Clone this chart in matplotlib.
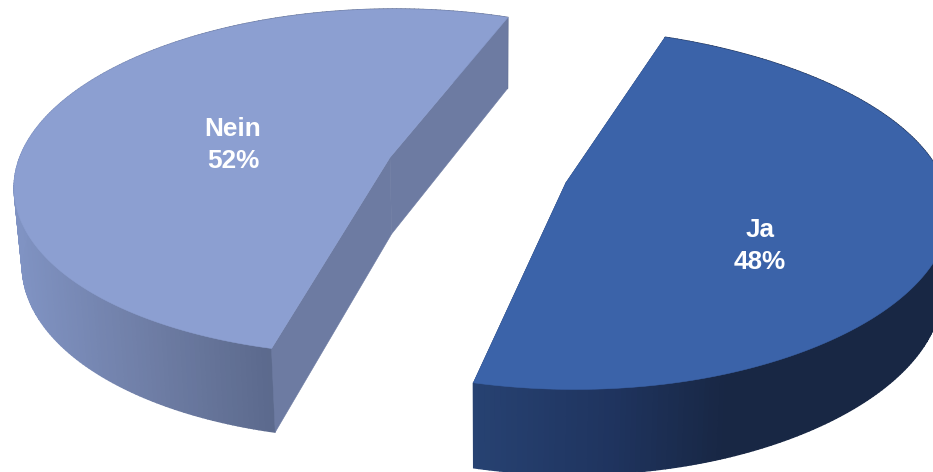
import numpy as np
import matplotlib
matplotlib.use('Agg')
import matplotlib.pyplot as plt
from matplotlib.colors import LinearSegmentedColormap

labels = ['Ja', 'Nein']
values = [48, 52]
percent_labels = ['48%', '52%']
top_colors = ['#3b63a9', '#8c9fd1']
cut_colors = ['#22365f', '#6d7ba2']
label_pos = [(760, 246), (233, 145)]

# projection of the pie plane onto the canvas
x0, y0 = 471, 170
rx, ry = 368, 173
tilt = 0.143
explode = 0.25
start_angle = 69.3
apex_dx = 6


def project(u, v):
    w = 1 + tilt * v
    # right side of the pie sits closer to the viewer, so it spreads a bit more
    spread = 30 * np.clip(u - 0.6, 0, None) ** 2
    return x0 + rx * u / w + spread, y0 - ry * v / w


def drop(x, y):
    # bottom rim of the pie, slightly pulled toward the middle
    return x + (490 - x) * 0.017, y + 71 + (y - 15) * 14 / 367


ja_side = LinearSegmentedColormap.from_list('ja', [(0, '#274272'), (0.3, '#1f345f'), (0.55, '#182744'), (1, '#182744')])
nein_side = LinearSegmentedColormap.from_list('nein', ['#8093c3', '#6f7ea6', '#5b698c'])
side_maps = [(ja_side, 472, 933), (nein_side, 14, 273)]
cut_z = [1, 3]

plt.rcParams['font.family'] = ['Liberation Sans', 'DejaVu Sans']
fig = plt.figure(figsize=(9.33, 4.72), dpi=100)
ax = fig.add_axes([0, 0, 1, 1])
ax.set_xlim(0, 933)
ax.set_ylim(472, 0)
ax.axis('off')

angle = start_angle
for i in range(len(values)):
    sweep = values[i] / sum(values) * 360
    t = np.radians(np.linspace(angle, angle - sweep, 240))
    mid = np.radians(angle - sweep / 2)
    cu, cv = explode * np.cos(mid), explode * np.sin(mid)
    ax_, ay_ = project(cu + np.cos(t), cv + np.sin(t))
    bx_, by_ = drop(ax_, ay_)
    cx, cy = project(cu, cv)
    cx = cx + apex_dx
    dx, dy = drop(cx, cy)

    # outer wall, shaded in thin strips from left to right
    cmap, xa, xb = side_maps[i]
    for j in range(len(t) - 1):
        c = cmap((0.5 * (ax_[j] + ax_[j + 1]) - xa) / (xb - xa))
        ax.fill([ax_[j], ax_[j + 1], bx_[j + 1], bx_[j]], [ay_[j], ay_[j + 1], by_[j + 1], by_[j]],
                color=c, lw=1.0, zorder=2)

    # the two cut faces toward the pie centre
    ax.fill([ax_[0], cx, dx, bx_[0]], [ay_[0], cy, dy, by_[0]], color=cut_colors[i], lw=0.4, zorder=cut_z[i])
    ax.fill([ax_[-1], cx, dx, bx_[-1]], [ay_[-1], cy, dy, by_[-1]], color=cut_colors[i], lw=0.4, zorder=cut_z[i])

    # top face
    ax.fill(np.r_[cx, ax_], np.r_[cy, ay_], color=top_colors[i], lw=0.4, zorder=5)

    ax.text(label_pos[i][0], label_pos[i][1], labels[i] + '\n' + percent_labels[i], color='white',
            fontsize=18.8, fontweight='bold', ha='center', va='center', linespacing=1.44, zorder=6)
    angle -= sweep

fig.savefig('out.png', dpi=100)
